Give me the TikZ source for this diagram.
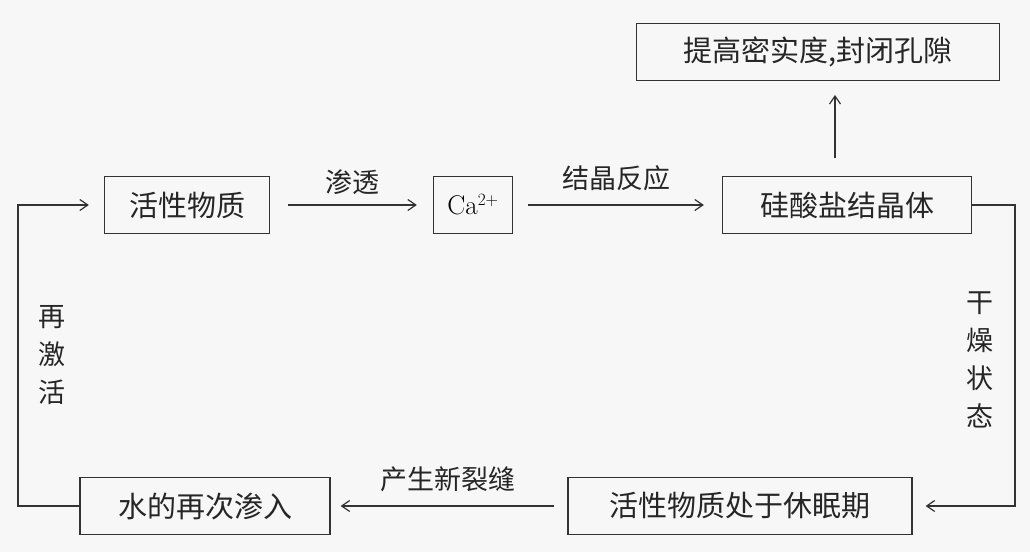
\documentclass[tikz,border=0pt]{standalone}
\usepackage{fontspec}
\newfontfamily\cjk{Noto Sans CJK SC}
\usetikzlibrary{arrows.meta}
\begin{document}
\begin{tikzpicture}[x=1pt,y=-1pt,
  box/.style={draw=black!80,line width=1.3pt,minimum height=57pt,inner sep=0pt,font=\cjk\fontsize{29}{31}\selectfont,text=black!85},
  lbl/.style={font=\cjk\fontsize{27}{30}\selectfont,text=black!85},
  ar/.style={draw=black!80,line width=1.2pt,-{Straight Barb[length=8pt,width=11pt]}}]
\fill[black!3] (0,0) rectangle (1030,552);
\useasboundingbox (0,0) rectangle (1030,552);
\node[box,minimum width=363pt] (top) at (818,52) {提高密实度,封闭孔隙};
\node[box,minimum width=165pt] (a) at (187,205) {活性物质};
\node[box,minimum width=79pt,font=\fontsize{27}{29}\selectfont,text=black] (ca) at (473,205) {Ca$^{2+}$};
\node[box,minimum width=249pt] (s) at (847,205) {硅酸盐结晶体};
\node[box,minimum width=250pt] (w) at (205,506) {水的再次渗入};
\node[box,minimum width=344pt] (d) at (740,506) {活性物质处于休眠期};
\coordinate (u1) at (835,158);
\coordinate (u2) at (835,95);
\coordinate (r1) at (1015,205);
\coordinate (r2) at (1015,506);
\coordinate (l1) at (18,506);
\coordinate (l2) at (18,205);
\draw[ar] ([xshift=18pt]a.east) -- node[lbl,above=6pt]{渗透} ([xshift=-16pt]ca.west);
\draw[ar] ([xshift=15pt]ca.east) -- node[lbl,above=10pt]{结晶反应} ([xshift=-18pt]s.west);
\draw[ar] (u1) -- (u2);
\draw[ar] (s.east) -- (r1) -- (r2) -- ([xshift=13pt]d.east);
\node[lbl,align=center,font=\cjk\fontsize{27}{38}\selectfont] at (980,360) {干\\燥\\状\\态};
\draw[ar] ([xshift=-13pt]d.west) -- node[lbl,above=10pt]{产生新裂缝} ([xshift=10pt]w.east);
\draw[ar] (w.west) -- (l1) -- (l2) -- ([xshift=-15pt]a.west);
\node[lbl,align=center,font=\cjk\fontsize{27}{38}\selectfont] at (52,355) {再\\激\\活};
\end{tikzpicture}
\end{document}
